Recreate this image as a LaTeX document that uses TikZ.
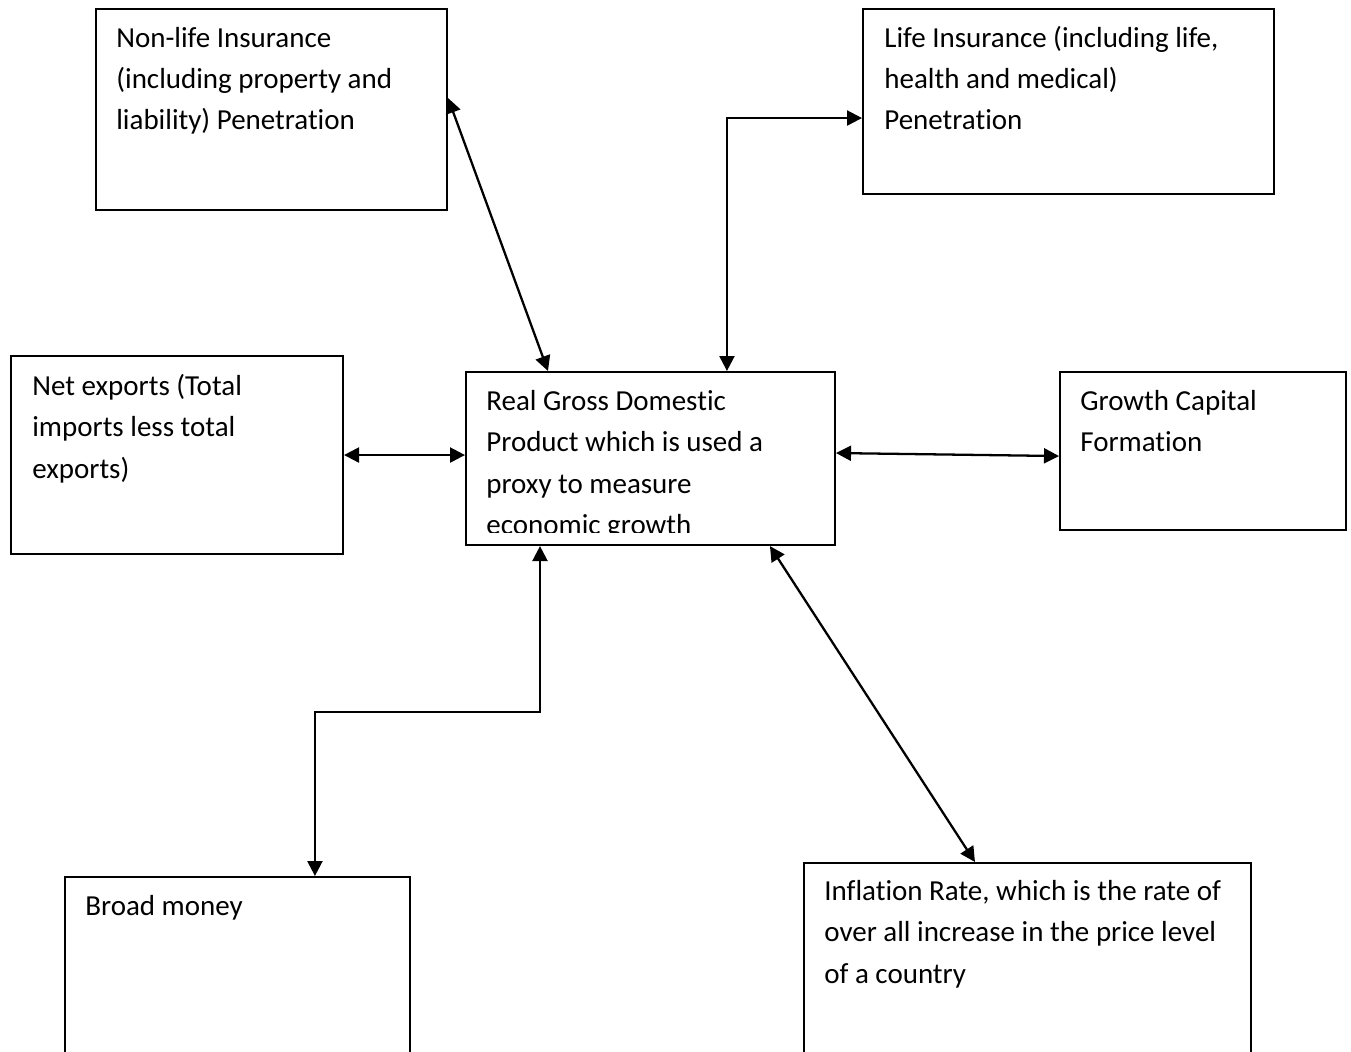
\documentclass[tikz,border=0pt]{standalone}
\usepackage{fontspec}
\setmainfont{Carlito}[Ligatures=NoCommon]
\usetikzlibrary{arrows.meta}
\tikzset{
  box/.style={draw, line width=1.2pt, inner sep=0, anchor=north west},
  txt/.style={anchor=base west, inner sep=0, align=left,
    font=\fontsize{16.5pt}{23.6pt}\selectfont},
  link/.style={line width=1.3pt, {Triangle[length=0.3cm,width=0.3cm]}-{Triangle[length=0.3cm,width=0.3cm]}}
}
\begin{document}
\begin{tikzpicture}[x=0.02cm, y=-0.02cm]
  \clip (0,0) rectangle (1351,1051);
  % boxes
  \node[box, minimum width=7.02cm, minimum height=4.02cm] (nonlife) at (95,8) {};
  \node[box, minimum width=8.22cm, minimum height=3.70cm] (life) at (862,8) {};
  \node[box, minimum width=6.64cm, minimum height=3.96cm] (netexp) at (10,355) {};
  \node[box, minimum width=7.38cm, minimum height=3.46cm] (gdp) at (465,371) {};
  \node[box, minimum width=5.72cm, minimum height=3.16cm] (growth) at (1059,371) {};
  \node[box, minimum width=6.90cm, minimum height=5.00cm] (broad) at (64,876) {};
  \node[box, minimum width=8.94cm, minimum height=5.00cm] (inflation) at (803,862) {};
  % texts (placed at the baseline of the last line)
  \node[txt] (nonlifetext) at (116,130) {Non-life Insurance\\(including property and\\liability) Penetration};
  \node[txt] (lifetext) at (884,130) {Life Insurance (including life,\\health and medical)\\Penetration};
  \node[txt] (netexptext) at (32,478) {Net exports (Total\\imports less total\\exports)};
  \begin{scope}
    \clip (465,371) rectangle (834,532);
    \node[txt] (gdptext) at (486,534.5) {Real Gross Domestic\\Product which is used a\\proxy to measure\\economic growth};
  \end{scope}
  \node[txt] (growthtext) at (1080,451.5) {Growth Capital\\Formation};
  \node[txt] (broadtext) at (85,915) {Broad money};
  \node[txt] (inflationtext) at (824,983) {Inflation Rate, which is the rate of\\over all increase in the price level\\of a country};
  % connectors
  \draw[link] ([yshift=0.23cm]nonlife.east) -- ([xshift=1.66cm]gdp.north west);
  \draw[link] ([yshift=-0.33cm]life.west) -| ([xshift=5.24cm]gdp.north west);
  \draw[link] (netexp.east) -- (netexp.east -| gdp.west);
  \draw[link] ([yshift=0.11cm]gdp.east) -- ([yshift=-0.1cm]growth.west);
  \draw[link] ([xshift=1.5cm]gdp.south west) -- ++(0,166) -| ([xshift=5.02cm]broad.north west);
  \draw[link] ([xshift=6.1cm]gdp.south west) -- ([xshift=3.44cm]inflation.north west);
\end{tikzpicture}
\end{document}
